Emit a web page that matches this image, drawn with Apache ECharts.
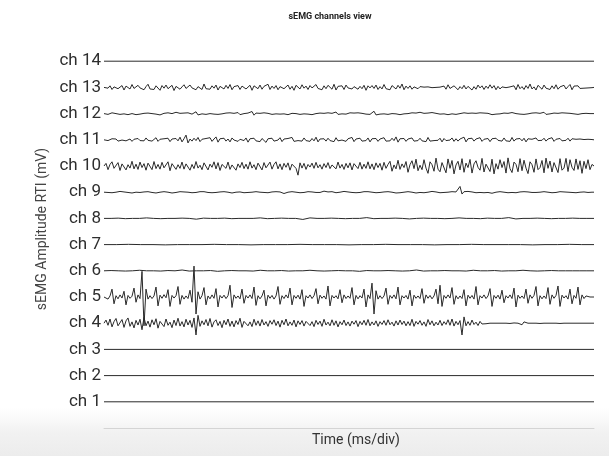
<!DOCTYPE html>
<html>
<head>
<meta charset="utf-8">
<script src="https://cdn.jsdelivr.net/npm/echarts@6/dist/echarts.min.js"></script>
<style>
  html, body { margin: 0; padding: 0; background: #ffffff; }
  #chart { width: 609px; height: 456px; }
</style>
</head>
<body>
<div id="chart"></div>
<script>
// sEMG channels view: 14 stacked surface EMG channels.
// Each channel is drawn around its own baseline (channel number * CH_STEP);
// the arrays hold the signal deviation from that baseline, in µV.

const CH_STEP = 100;     // vertical offset between channels (µV)
const T_MAX = 1000;      // visible time window (ms)

const channelNames = ['ch 1','ch 2','ch 3','ch 4','ch 5','ch 6','ch 7',
                      'ch 8','ch 9','ch 10','ch 11','ch 12','ch 13','ch 14'];

const ch1 = [0, 0];
const ch2 = [0, 0];
const ch3 = [0, 0];
const ch4 = [
  0,12,-8,16,-14,6,18,-10,-4,14,-16,9,20,-12,5,-18,11,-7,15,-25,
  22,-10,8,-15,13,-6,17,-19,7,10,-13,16,-8,4,-17,12,-9,19,-11,6,
  -14,15,-7,11,-16,20,-45,30,-12,9,-6,14,-10,18,-15,5,13,-9,7,-17,
  11,-6,16,-12,8,-14,10,-5,19,-16,7,12,-10,5,-13,15,-8,9,-11,14,
  -7,6,-12,10,-4,13,-9,8,-15,11,-6,16,-10,5,-8,12,-14,9,-5,10,
  -11,7,14,-9,6,-13,11,-5,8,-12,15,-7,4,-10,13,-8,9,-14,6,-6,
  12,-9,5,-11,8,-4,10,-13,7,-6,11,-8,14,-10,5,-7,9,-12,6,-5,
  10,-8,13,-6,4,-11,9,-7,12,-5,8,-10,6,-9,15,-12,7,-4,10,-8,
  5,-12,14,-6,9,-10,4,-7,11,-9,6,-5,13,-8,16,-11,7,-6,10,-45,
  24,-10,6,-8,12,-5,4,-9,7,-3,2,-2,1,0,-1,0,1,0,0,0,
  0,0,0,-1,0,1,0,0,4,-6,5,-2,0,0,0,1,0,0,-1,0,
  0,0,0,1,0,0,0,0,-1,0,0,0,0,0,0,0,0,0,0,0,
  0,0,0,0,0,0];
const ch5 = [
  0,6,-8,4,30,-26,5,-7,8,-4,22,-30,6,-5,3,34,-20,8,-6,98,
  -110,30,-8,5,-6,4,38,-34,7,-5,9,-3,28,-36,6,-4,5,40,-28,6,
  -8,4,-6,26,-20,118,-65,20,-8,5,36,-30,4,-7,8,-5,32,-38,6,-4,
  7,-6,5,45,-40,8,-5,4,-7,30,-24,6,-4,8,-6,38,-32,5,-7,4,
  26,-34,7,-5,6,-8,4,40,-28,5,-6,8,-4,34,-30,6,-5,7,-8,28,
  -36,5,-4,8,-6,5,32,-26,7,-5,4,-8,42,-34,6,-4,5,-7,28,-22,
  8,-6,4,-5,36,-30,6,-7,5,-4,30,-38,8,-6,53,-65,24,-8,5,-6,
  4,34,-28,6,-5,8,-7,38,-30,5,-4,6,-8,26,-34,7,-5,4,-6,32,
  -24,8,-5,6,-7,4,30,-26,45,-36,6,-5,8,-4,36,-28,5,-7,4,-6,
  28,-34,7,-5,6,-8,40,-30,5,-4,8,-6,4,32,-36,6,-5,7,-8,26,
  -22,5,-4,8,-6,34,-38,7,-5,4,-6,30,-24,8,-5,6,40,-34,5,-7,
  4,-6,36,-28,8,-5,6,42,-36,7,-4,5,-8,30,-26,6,-5,38,-30,8,
  -6,4,-2,0,0,0];
const ch6 = [0,1,0,-1,0,2,0,0,-1,1,0,3,-1,0,0,1,-2,0,1,0,0,-1,2,0,0,1,-1,0,0,2,0,-1,0,1,0,0,-2,1,0,0,1,0,-1,0,3,-1,0,0,1,0,0,-1,2,0,0,1,-1,0,0,2,0,-1,0,1,0,0,0,0,0,0];
const ch7 = [0,0,1,0,0,-1,0,0,0,1,0,0,-1,0,0,0,1,0,0,0,-1,0,0,1,0,0,0,-1,0,0,1,0,0,0,0,-1,0,0,1,0,0];
const ch8 = [0,0,1,-1,0,0,2,0,-1,0,0,1,0,-3,1,0,0,1,-1,0,0,0,2,-1,0,1,0,0,-4,2,0,0,1,0,-1,0,0,3,-1,0,0,1,0,-2,0,1,0,0,-1,0,2,0,0,-1,1,0,0,3,-2,0,0,1,0,-1,0,0,1,0,0,0];
const ch9 = [
  0,1,-1,2,-2,1,0,-1,3,-2,1,0,-1,2,-3,1,0,2,-1,0,
  1,-2,2,0,-1,3,-3,1,0,-1,2,-1,0,4,-3,1,-1,0,2,-2,
  1,-1,0,3,-2,1,-1,0,2,-3,2,0,-1,1,-2,3,-1,0,1,-1,
  2,-2,0,1,-3,2,0,-1,1,0,-2,3,-1,1,0,-2,2,-1,0,1,
  -1,3,-2,0,1,-1,2,-2,1,8,-5,1,0,-1,2,-1,0,3,-2,1,
  -1,0,2,-3,1,0,-1,2,-1,0,4,-3,1,-1,2,0,-2,1,0,-1,
  3,-2,1,0,-1,2,-2,1,-1,0,2,-3,2,-1,0,1,-2,3,-1,0,
  1,-1,2,-2,0,1,-3,4,-2,1,0,-1,2,-1,0,3,-3,1,-1,2,
  -2,1,0,-1,3,-2,1,0,-2,2,-1,1,0,-3,2,-1,1,-2,22,-7,
  2,-1,3,-2,1,0,-2,3,-1,1,-2,1,-1,3,-4,2,0,-1,2,-1,
  0,2,-2,1,-1,3,-2,0,1,-1,2,-3,1,0,-1,2,-1,1,0,-2,
  2,-1,0,1,-2,3,-1,0,2,-2,1,-1,0,2,-1,1,-2,1,0,-1,
  1,0,-1,1,0,0];
const ch10 = [
  0,10,-14,6,16,-9,-4,13,-17,8,12,-15,5,-8,18,-11,7,-13,15,-6,
  9,-16,11,4,-14,17,-10,6,-12,14,-7,-3,16,-18,9,12,-13,5,-9,15,
  -12,8,14,-16,6,-10,17,-8,3,-14,12,9,-15,7,-5,16,-11,13,-17,6,
  10,-9,15,-13,4,11,-16,8,-6,14,-10,7,-12,16,-8,5,-14,11,9,-15,
  13,-7,-10,15,-12,6,16,-11,8,-14,10,-5,12,-16,7,14,-9,-35,12,-8,
  10,-13,6,-4,11,-9,14,-7,5,-12,9,-6,13,-10,4,8,-11,15,-8,6,
  -13,10,-7,12,-15,9,5,-10,14,-12,7,-9,16,-11,8,-14,12,-6,10,-16,
  14,-9,6,18,-20,4,-11,22,-13,8,-6,17,-24,5,20,-10,26,-18,3,-14,
  24,-8,-28,16,5,-20,30,-12,-22,13,6,-26,27,-9,21,-30,4,18,-15,28,
  -24,11,-6,25,-27,8,20,-5,-16,29,-23,7,14,-21,26,-30,9,-12,24,-6,
  17,-27,31,-10,-25,15,6,-22,28,-18,22,-8,-29,16,5,-24,27,-14,-6,21,
  -26,30,-9,19,-23,13,7,-25,28,-16,-8,29,-21,24,-5,-17,27,-13,20,-28,
  18,-10,24,-14,6,0];
const ch11 = [
  0,2,-3,1,4,-2,3,-5,2,-1,6,-4,1,3,-6,2,-2,5,-3,1,
  -4,7,-2,3,-5,1,8,-6,2,-3,4,-1,6,-7,3,-2,5,-4,10,-8,
  4,18,-12,3,-5,6,-3,9,-7,2,-4,5,-2,8,-6,3,11,-9,4,-2,
  6,-5,3,-8,7,-1,4,-6,2,5,-3,7,-9,4,-2,6,-4,3,-7,5,
  12,-10,4,-3,6,-5,2,-1,8,-7,3,-4,5,-2,9,-6,1,-3,4,-5,
  7,-3,2,-6,5,-4,10,-8,3,-2,4,-5,6,-3,2,-7,8,-4,3,-1,
  5,-6,4,-2,9,-7,3,-4,6,-5,2,-3,7,-8,4,-2,5,-6,3,-1,
  8,-5,2,-4,6,-3,11,-9,4,-2,5,-6,3,-4,7,-5,2,-3,6,-4,
  3,-7,9,-5,2,-3,4,-2,6,-8,5,-3,2,-1,7,-6,4,-5,3,-2,
  10,-8,4,-3,6,-5,3,-4,8,-6,2,-1,5,-7,4,-3,6,-2,3,-5,
  7,-4,2,-6,9,-5,3,-2,5,-4,6,-8,4,-3,2,-5,7,-3,4,-2,
  6,-5,3,-4,8,-6,2,-3,5,-4,3,-2,6,-5,4,-3,2,-1,3,-2,
  1,-2,2,-1,1,0];
const ch12 = [
  0,2,-3,1,3,-2,0,4,-3,1,-1,2,-4,3,0,6,-4,1,-2,2,
  1,-3,2,-1,0,3,-2,4,-5,2,1,-2,3,-1,0,-3,5,-2,1,-1,
  2,-4,3,0,-2,1,7,-5,2,-1,3,-3,1,0,2,-2,4,-3,1,-1,
  0,2,-3,3,-1,1,-2,4,-4,2,0,-1,2,-3,8,-6,2,-1,1,-2,
  3,-2,1,0,-3,2,-1,4,-2,1,-1,2,-4,3,1,-2,0,2,-3,1,
  -1,3,-2,5,-4,2,0,-1,2,-3,1,0,3,-2,1,-4,6,-3,1,-1,
  2,-2,0,3,-1,2,-4,3,-2,1,0,-2,4,-3,2,9,-5,1,-2,3,
  -1,2,-3,1,0,2,-1,3,-4,2,-1,1,0,-2,3,-1,2,-3,5,-2,
  1,-1,2,-2,4,-3,1,0,-2,3,-1,6,-4,2,-1,1,-3,2,0,-1,
  3,-2,1,-4,2,0,1,-1,3,-2,2,-3,1,7,-4,1,-2,2,-1,0,
  2,-3,1,-1,4,-2,0,1,-2,3,-3,2,-1,0,2,-4,3,-1,1,-2,
  5,-3,2,-1,0,2,-2,1,-3,3,-1,2,-2,1,0,-1,2,-3,1,0,
  -1,1,-1,0,1,0];
const ch13 = [
  0,4,-3,6,-8,2,9,-5,-2,7,-10,5,3,-6,11,-4,-7,8,-2,5,
  -9,3,12,-6,1,-8,6,4,-11,7,-3,9,-5,-1,8,-12,4,6,-7,2,
  10,-4,-6,9,-2,5,-9,3,7,-8,13,-5,2,-7,6,-3,9,-10,4,1,
  -6,8,-4,11,-9,3,-2,7,-8,5,10,-6,-3,8,-11,6,2,-5,9,-7,
  4,-2,12,-8,5,-4,7,-9,3,6,-5,-1,9,-7,4,-11,8,2,-6,10,
  -3,5,-8,7,-2,-6,11,-4,3,-9,6,-5,8,1,-7,12,-10,4,-3,6,
  -8,9,-2,5,-6,3,10,-7,4,-5,8,-11,6,-2,7,-4,9,-8,3,-6,
  11,-5,2,-9,7,4,-6,8,-3,13,-9,5,-4,6,-7,2,9,-5,3,-2,
  1,-1,2,0,-1,1,0,-2,1,0,5,-7,10,-4,-8,6,12,-9,3,-5,
  8,-6,4,11,-10,3,-7,9,-2,6,-8,5,-4,10,-3,7,-9,4,-6,2,
  1,-1,0,2,-1,6,-9,11,-5,3,-8,7,-4,13,-6,2,-10,8,5,-7,
  9,-3,4,-8,6,-5,10,-7,2,-4,8,-6,3,11,-9,5,-2,6,-4,1,
  -3,4,-2,3,-1,0];
const ch14 = [0, 0];

const channels = [ch1, ch2, ch3, ch4, ch5, ch6, ch7, ch8, ch9, ch10, ch11, ch12, ch13, ch14];

const FONT = 'Roboto, "Noto Sans", sans-serif';

// spread each channel's samples evenly over the time window, on its baseline
function toSeries(samples, chIndex) {
  const base = (chIndex + 1) * CH_STEP;
  const n = samples.length;
  return samples.map((v, i) => [i * T_MAX / (n - 1), base + v]);
}

const chart = echarts.init(document.getElementById('chart'), null, { renderer: 'canvas' });

chart.setOption({
  animation: false,
  backgroundColor: '#ffffff',
  graphic: [
    {
      type: 'rect', z: -10, silent: true,
      shape: { x: 0, y: 408, width: 609, height: 48 },
      style: {
        fill: new echarts.graphic.LinearGradient(0, 0, 0, 1, [
          { offset: 0, color: 'rgba(240,240,240,0)' },
          { offset: 0.5, color: 'rgba(238,238,238,0.8)' },
          { offset: 1, color: '#ececec' }
        ])
      }
    },
    {
      type: 'text', x: 330, y: 17,
      style: { text: 'sEMG channels view', font: 'bold 9px ' + FONT, fill: '#222',
               align: 'center', verticalAlign: 'middle' }
    },
    {
      type: 'text', x: 356, y: 440,
      style: { text: 'Time (ms/div)', font: '14px ' + FONT, fill: '#333',
               align: 'center', verticalAlign: 'middle' }
    },
    {
      type: 'text', x: 42, y: 229, rotation: Math.PI / 2,
      style: { text: 'sEMG Amplitude RTI (mV)', font: '14px ' + FONT, fill: '#444',
               align: 'center', verticalAlign: 'middle' }
    }
  ],
  grid: { left: 104, right: 15, top: 35, bottom: 28, containLabel: false },
  xAxis: {
    type: 'value', min: 0, max: T_MAX,
    axisLine: { show: true, lineStyle: { color: '#d4d4d4', width: 1 } },
    axisTick: { show: false },
    axisLabel: { show: false },
    splitLine: { show: false }
  },
  yAxis: {
    type: 'value', min: 0, max: (channelNames.length + 1) * CH_STEP, interval: CH_STEP,
    axisLine: { show: false },
    axisTick: { show: false },
    splitLine: { show: false },
    axisLabel: {
      margin: 3,
      color: '#2e2e2e',
      fontFamily: FONT,
      fontSize: 17,
      formatter: function (v) {
        const k = Math.round(v / CH_STEP);
        return (k >= 1 && k <= channelNames.length) ? channelNames[k - 1] : '';
      }
    }
  },
  series: channels.map((samples, idx) => ({
    name: channelNames[idx],
    type: 'line',
    showSymbol: false,
    silent: true,
    lineStyle: { color: '#2a2a2a', width: 1 },
    data: toSeries(samples, idx)
  }))
});
</script>
</body>
</html>
